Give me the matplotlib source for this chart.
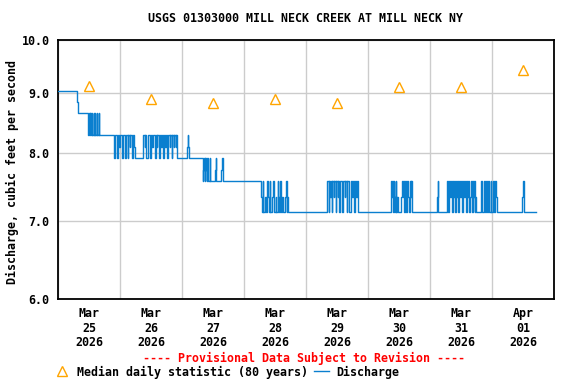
import numpy as np
import pandas as pd
import matplotlib
matplotlib.use("Agg")
import matplotlib.pyplot as plt
import matplotlib.dates as mdates
from matplotlib.lines import Line2D

plt.rcParams["font.family"] = ["DejaVu Sans Mono"]
plt.rcParams["font.weight"] = "bold"
plt.rcParams["font.size"] = 8.4

start = pd.Timestamp("2026-03-25 00:00")

# discharge (cfs): value holds from each time (hours since start) until the next one
q_hours = [
    0, 7.25, 7.75, 11.75, 12, 12.25, 12.5, 12.75, 13, 13.25, 13.75, 14, 14.25,
    14.5, 15, 15.25, 15.75, 16,
    21.5, 21.75, 22.25, 22.75, 23.25, 23.75, 24, 24.75, 25.25, 25.75, 26, 26.5,
    27, 27.25, 27.75, 28, 28.5, 29, 29.5, 29.75, 33, 33.5, 33.75, 34.25, 35,
    35.5, 36, 36.5, 36.75, 37.5, 37.75, 38.25, 38.5, 39, 39.5, 40, 40.25, 40.75,
    41, 41.5, 41.75, 42.25, 42.5, 43.25, 43.5, 44, 44.25, 44.75, 45, 45.5, 45.75,
    46, 50, 50.25, 50.5, 50.75,
    56, 56.25, 56.5, 56.75, 57, 57.25, 57.5, 57.75, 58, 58.75, 59, 60.75, 61,
    61.25, 63.25, 63.5, 63.75,
    78.75, 79, 79.25, 79.5, 80, 80.5, 81, 81.25, 81.5, 82, 82.25, 82.75, 83.25,
    83.5, 84.25, 84.5, 85, 85.25, 85.5, 86, 86.25, 86.75, 87.25, 88, 88.25,
    88.5, 88.75, 89,
    104, 104.25, 104.75, 105, 105.25, 105.5, 106, 106.25, 106.75, 107, 107.5,
    107.75, 108.25, 108.5, 108.75, 109.25, 109.75, 110, 110.5, 111, 111.25,
    111.75, 112, 112.5, 112.75, 113.25, 113.75, 114.25, 114.75, 115, 115.5,
    115.75, 116.25,
    129, 129.25, 129.5, 129.75, 130, 130.25, 130.5, 130.75, 131, 131.25, 131.5,
    132.75, 133, 133.5, 133.75, 134, 134.25, 134.5, 134.75,
    135.25, 135.5, 135.75, 136.25, 136.5, 136.75, 137,
    146.75, 147, 147.25,
    150.5, 150.75, 151, 151.25, 151.75, 152, 152.5, 152.75, 153, 153.25, 153.75,
    154, 154.5, 154.75, 155, 155.25, 155.75, 156, 156.5, 156.75, 157.25, 157.5,
    158, 158.25, 158.5, 158.75, 159.25, 159.5, 159.75, 160.25, 160.5, 160.75,
    161, 161.25, 161.5, 161.75,
    163.75, 164, 164.25, 164.75, 165.25, 165.5, 165.75, 166, 166.5, 166.75, 167,
    167.5, 167.75, 168.25, 168.5, 168.75, 169.25, 169.5, 169.75,
    179.75, 180, 180.25, 180.5, 185,
]
q_cfs = [
    9.04, 8.85, 8.66, 8.29, 8.66, 8.29, 8.66, 8.29, 8.66, 8.29, 8.66, 8.29, 8.66,
    8.29, 8.66, 8.29, 8.66, 8.29,
    8.10, 7.92, 8.29, 7.92, 8.29, 8.10, 8.29, 7.92, 8.29, 8.10, 7.92, 8.29,
    7.92, 8.29, 8.10, 8.29, 7.92, 8.29, 8.10, 7.92, 8.29, 8.10, 8.29, 7.92, 8.29,
    7.92, 8.29, 8.10, 8.29, 7.92, 8.29, 8.10, 8.29, 7.92, 8.29, 8.10, 8.29, 7.92,
    8.29, 8.10, 8.29, 7.92, 8.29, 8.10, 8.29, 7.92, 8.29, 8.10, 8.29, 8.10, 8.29,
    7.92, 8.10, 8.29, 8.10, 7.92,
    7.57, 7.74, 7.92, 7.57, 7.92, 7.74, 7.57, 7.92, 7.57, 7.92, 7.57, 7.74, 7.92,
    7.57, 7.74, 7.92, 7.57,
    7.33, 7.12, 7.57, 7.12, 7.33, 7.12, 7.57, 7.33, 7.12, 7.57, 7.12, 7.33, 7.57,
    7.12, 7.33, 7.12, 7.57, 7.33, 7.12, 7.57, 7.12, 7.33, 7.12, 7.33, 7.57,
    7.12, 7.33, 7.12,
    7.33, 7.57, 7.12, 7.57, 7.33, 7.57, 7.12, 7.57, 7.33, 7.57, 7.12,
    7.57, 7.33, 7.57, 7.12, 7.57, 7.33, 7.12, 7.57, 7.33, 7.57,
    7.12, 7.57, 7.33, 7.12, 7.57, 7.33, 7.57, 7.12, 7.57, 7.33,
    7.57, 7.12,
    7.57, 7.33, 7.57, 7.12, 7.57, 7.33, 7.12, 7.57, 7.12, 7.33, 7.12,
    7.33, 7.57, 7.33, 7.57, 7.12, 7.33, 7.57, 7.12,
    7.57, 7.33, 7.12, 7.57, 7.33, 7.57, 7.12,
    7.33, 7.57, 7.12,
    7.33, 7.57, 7.12, 7.57, 7.33, 7.57, 7.12, 7.57, 7.33, 7.57, 7.12, 7.57,
    7.33, 7.57, 7.12, 7.57, 7.33, 7.57, 7.12, 7.57, 7.33, 7.57, 7.12, 7.57,
    7.33, 7.57, 7.12, 7.33, 7.57, 7.12, 7.57, 7.33, 7.57, 7.12, 7.33, 7.12,
    7.57, 7.33, 7.12, 7.57, 7.12, 7.33, 7.57, 7.12, 7.57, 7.33, 7.12, 7.57,
    7.12, 7.33, 7.57, 7.12, 7.57, 7.33, 7.12,
    7.33, 7.57, 7.33, 7.12, 7.12,
]

# median daily statistic, plotted at noon of each day
median_days = ["2026-03-25", "2026-03-26", "2026-03-27", "2026-03-28",
               "2026-03-29", "2026-03-30", "2026-03-31", "2026-04-01"]
median_cfs = [9.13, 8.91, 8.83, 8.91, 8.83, 9.12, 9.12, 9.43]

y_ticks = [6.0, 7.0, 8.0, 9.0, 10.0]

q_time = start + pd.to_timedelta(q_hours, unit="h")
median_time = pd.to_datetime(median_days) + pd.Timedelta(hours=12)

fig = plt.figure(figsize=(5.76, 3.84), dpi=100)
ax = fig.add_axes([58 / 576, 1 - 299 / 384, 496 / 576, 259 / 384])

ax.step(q_time, q_cfs, where="post", color="#0a7fcf", lw=1.0, zorder=3)
ax.plot(median_time, median_cfs, linestyle="none", marker="^", ms=6.5,
        mfc="none", mec="#ffa500", mew=1.0, zorder=4)

ax.set_yscale("log")
ax.set_ylim(6, 10)
ax.set_yticks(y_ticks)
ax.set_yticklabels([f"{v:.1f}" for v in y_ticks])
ax.yaxis.set_minor_locator(matplotlib.ticker.NullLocator())

ax.set_xlim(start, start + pd.Timedelta(days=8))
ax.xaxis.set_major_locator(mdates.HourLocator(byhour=12))
ax.xaxis.set_major_formatter(mdates.DateFormatter("%b\n%d\n%Y"))
ax.xaxis.set_minor_locator(mdates.DayLocator())

ax.tick_params(axis="both", which="both", length=0)
ax.tick_params(axis="y", pad=6)
ax.tick_params(axis="x", pad=6)
for lab in ax.get_xticklabels():
    lab.set_linespacing(1.15)

ax.grid(True, axis="x", which="minor", color="#cccccc", lw=1.0)
ax.grid(True, axis="y", which="major", color="#cccccc", lw=1.0)
ax.grid(False, axis="x", which="major")
for s in ax.spines.values():
    s.set_linewidth(1.3)
    s.set_color("black")

fig.text(306 / 576, 1 - 19 / 384, "USGS 01303000 MILL NECK CREEK AT MILL NECK NY",
         ha="center", va="center")
fig.text(12 / 576, 1 - 172 / 384, "Discharge, cubic feet per second",
         rotation=90, ha="center", va="center")
fig.text(304 / 576, 1 - 358 / 384, "---- Provisional Data Subject to Revision ----",
         ha="center", va="center", color="red")

handles = [
    Line2D([], [], linestyle="none", marker="^", ms=6.5, mfc="none",
           mec="#ffa500", mew=1.0),
    Line2D([], [], color="#0a7fcf", lw=1.0),
]
fig.legend(handles, ["Median daily statistic (80 years)", "Discharge"],
           loc="center", bbox_to_anchor=(227 / 576, 1 - 372 / 384), ncol=2,
           frameon=False, handlelength=1.3, handletextpad=0.6,
           columnspacing=0.5, borderaxespad=0, borderpad=0)

fig.savefig("out.png", dpi=100)
